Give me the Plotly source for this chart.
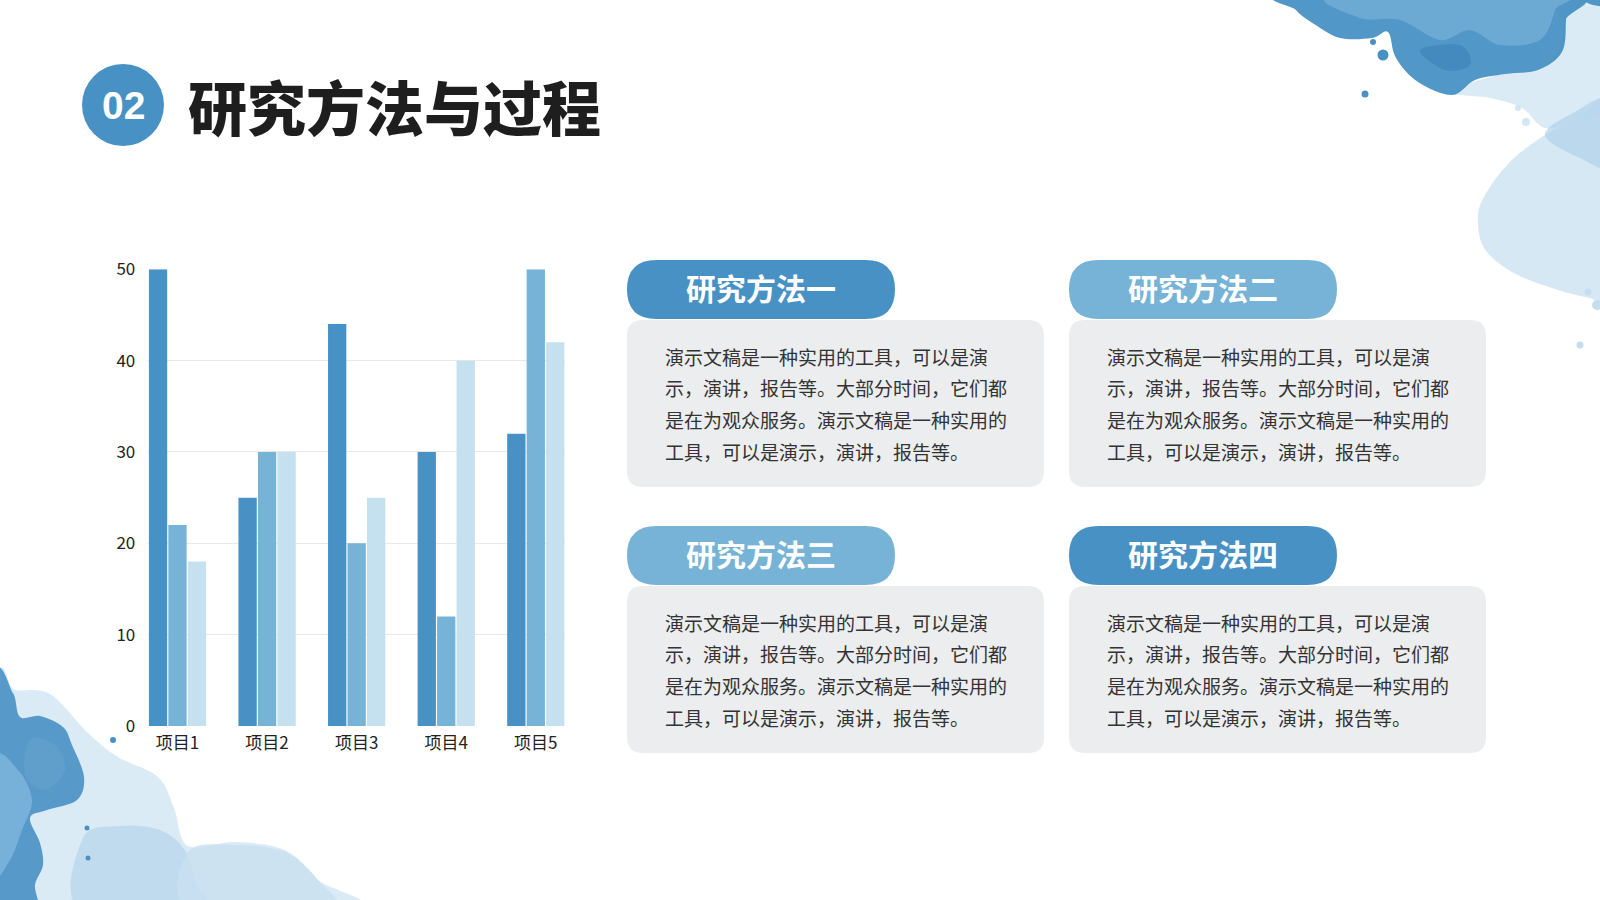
import plotly.graph_objects as go

W, H = 1600, 900
FONT = 'Noto Sans CJK SC'

DARK = '#4891C4'
MID = '#76B3D6'
LIGHT = '#C5E0EF'
BOX_GRAY = '#ECEDEF'

# chart data
categories = ['项目1', '项目2', '项目3', '项目4', '项目5']
series1 = [50, 25, 44, 30, 32]
series2 = [22, 30, 20, 12, 50]
series3 = [18, 30, 25, 40, 42]
y_ticks = [0, 10, 20, 30, 40, 50]

title_number = '02'
title_text = '研究方法与过程'
card_titles = ['研究方法一', '研究方法二', '研究方法三', '研究方法四']
card_lines = [
    '演示文稿是一种实用的工具，可以是演',
    '示，演讲，报告等。大部分时间，它们都',
    '是在为观众服务。演示文稿是一种实用的',
    '工具，可以是演示，演讲，报告等。',
]


def px(x):
    return x / W


def py(y):
    return 1 - y / H


def round_rect(x0, y0, x1, y1, r):
    # rounded rectangle as a path, pixel input -> paper coords
    pts = [
        ('M', [(x0 + r, y0)]),
        ('L', [(x1 - r, y0)]),
        ('Q', [(x1, y0), (x1, y0 + r)]),
        ('L', [(x1, y1 - r)]),
        ('Q', [(x1, y1), (x1 - r, y1)]),
        ('L', [(x0 + r, y1)]),
        ('Q', [(x0, y1), (x0, y1 - r)]),
        ('L', [(x0, y0 + r)]),
        ('Q', [(x0, y0), (x0 + r, y0)]),
    ]
    s = ''
    for cmd, ps in pts:
        s += cmd + ' ' + ' '.join('%.5f,%.5f' % (px(a), py(b)) for a, b in ps) + ' '
    return s + 'Z'


def blob(points):
    # smooth closed curve through pixel points (catmull-rom -> bezier)
    n = len(points)
    s = 'M %.5f,%.5f ' % (px(points[0][0]), py(points[0][1]))
    for i in range(n):
        p0 = points[i - 1]
        p1 = points[i]
        p2 = points[(i + 1) % n]
        p3 = points[(i + 2) % n]
        c1 = (p1[0] + (p2[0] - p0[0]) / 6, p1[1] + (p2[1] - p0[1]) / 6)
        c2 = (p2[0] - (p3[0] - p1[0]) / 6, p2[1] - (p3[1] - p1[1]) / 6)
        s += 'C %.5f,%.5f %.5f,%.5f %.5f,%.5f ' % (
            px(c1[0]), py(c1[1]), px(c2[0]), py(c2[1]), px(p2[0]), py(p2[1]))
    return s + 'Z'


fig = go.Figure()

for vals, color, name in [(series1, DARK, '系列1'), (series2, MID, '系列2'), (series3, LIGHT, '系列3')]:
    fig.add_trace(go.Bar(x=categories, y=vals, name=name, marker=dict(color=color, line=dict(width=0))))

shapes = []

# watercolor decorations (pixel outlines)
deco = [
    # top right: light washes
    ([(1450, 92), (1490, 98), (1522, 108), (1545, 128), (1575, 120), (1610, 100), (1610, -5),
      (1560, -5), (1562, 40), (1540, 68), (1500, 74)],
     'rgba(214,233,245,0.9)'),
    ([(1545, 135), (1512, 160), (1488, 190), (1478, 215), (1484, 248), (1512, 272), (1552, 288),
      (1590, 298), (1610, 298), (1610, 110), (1580, 118)],
     'rgba(208,229,243,0.9)'),
    ([(1545, 135), (1575, 112), (1610, 100), (1610, 165), (1580, 158)],
     'rgba(175,210,233,0.7)'),
    # top right: dark splash
    ([(1292, -5), (1296, 10), (1314, 24), (1340, 38), (1372, 38), (1388, 32), (1396, 58),
      (1418, 82), (1452, 95), (1475, 80), (1505, 74), (1538, 70), (1562, 52), (1566, 20), (1566, -5)],
     'rgba(72,145,196,0.95)'),
    ([(1335, -5), (1360, 18), (1400, 20), (1440, 40), (1470, 30), (1500, 45), (1540, 40), (1555, 10), (1555, -5)],
     'rgba(118,176,216,0.75)'),
    ([(1420, 50), (1445, 70), (1470, 65), (1460, 45)],
     'rgba(60,130,185,0.6)'),
    ([(1578, -5), (1590, 4), (1610, 6), (1610, -5)],
     'rgba(72,145,196,0.95)'),
    # bottom left: light washes
    ([(0, 682), (15, 690), (50, 694), (88, 733), (118, 757), (158, 777), (174, 808), (188, 846),
      (235, 842), (285, 850), (318, 880), (345, 910), (0, 910)],
     'rgba(214,233,245,0.9)'),
    ([(83, 838), (120, 826), (160, 830), (185, 850), (195, 880), (200, 910), (80, 910)],
     'rgba(185,215,236,0.8)'),
    ([(188, 852), (235, 845), (285, 852), (318, 880), (330, 910), (190, 910)],
     'rgba(200,224,240,0.8)'),
    # bottom left: dark splash
    ([(-5, 682), (13, 693), (20, 717), (40, 716), (63, 727), (72, 745), (84, 777), (77, 800),
      (47, 810), (30, 818), (40, 843), (43, 865), (35, 885), (36, 910), (-5, 910)],
     'rgba(72,145,196,0.9)'),
    ([(-5, 760), (18, 770), (32, 800), (22, 830), (10, 860), (-5, 870)],
     'rgba(125,180,218,0.85)'),
    ([(30, 740), (55, 745), (65, 770), (45, 790), (25, 775)],
     'rgba(100,160,205,0.7)'),
]
for pts, color in deco:
    shapes.append(dict(type='path', xref='paper', yref='paper', path=blob(pts),
                       fillcolor=color, line=dict(width=0), layer='below'))

# splash dots
for cx, cy, r, col in [(1365, 94, 3.5, DARK), (1383, 55, 5.5, DARK), (1373, 42, 3, DARK),
                       (113, 740, 3, DARK), (87, 828, 2.5, DARK), (88, 858, 2.5, DARK),
                       (1588, 292, 3.5, '#C5DDEE'), (1597, 305, 5, '#C5DDEE'), (1580, 345, 3.5, '#C5DDEE'),
                       (1518, 108, 3, '#D2E6F3'), (1526, 122, 4, '#D2E6F3')]:
    shapes.append(dict(type='circle', xref='paper', yref='paper',
                       x0=px(cx - r), x1=px(cx + r), y0=py(cy + r), y1=py(cy - r),
                       fillcolor=col, line=dict(width=0), layer='below'))

# title badge
shapes.append(dict(type='circle', xref='paper', yref='paper',
                   x0=px(82), x1=px(164), y0=py(146), y1=py(64),
                   fillcolor=DARK, line=dict(width=0)))

annotations = [
    dict(text='<b>%s</b>' % title_number, x=px(123), y=py(105), xref='paper', yref='paper',
         showarrow=False, xanchor='center', yanchor='middle',
         font=dict(family='Liberation Sans', size=39, color='white')),
    dict(text=title_text, x=px(186), y=py(105), xref='paper', yref='paper',
         showarrow=False, xanchor='left', yanchor='middle',
         font=dict(family=FONT, size=59, color='#1E1E1E', weight=900)),
]

# cards
card_x = [627, 1069, 627, 1069]
card_y = [260, 260, 526, 526]
pill_colors = [DARK, MID, MID, DARK]
for i, title in enumerate(card_titles):
    x0, y0 = card_x[i], card_y[i]
    shapes.append(dict(type='path', xref='paper', yref='paper',
                       path=round_rect(x0, y0 + 60, x0 + 417, y0 + 227, 16),
                       fillcolor=BOX_GRAY, line=dict(width=0)))
    shapes.append(dict(type='path', xref='paper', yref='paper',
                       path=round_rect(x0, y0, x0 + 268, y0 + 59, 29.5),
                       fillcolor=pill_colors[i], line=dict(width=0)))
    annotations.append(dict(text=title, x=px(x0 + 134), y=py(y0 + 27), xref='paper', yref='paper',
                            showarrow=False, xanchor='center', yanchor='middle',
                            font=dict(family=FONT, size=30, color='white', weight=700)))
    for j, line in enumerate(card_lines):
        annotations.append(dict(text=line, x=px(x0 + 36), y=py(y0 + 96 + j * 31.7),
                                xref='paper', yref='paper', showarrow=False,
                                xanchor='left', yanchor='middle',
                                font=dict(family=FONT, size=19, color='#333333')))

fig.update_layout(
    width=W, height=H,
    margin=dict(l=0, r=0, t=0, b=0),
    paper_bgcolor='white', plot_bgcolor='rgba(0,0,0,0)',
    showlegend=False,
    barmode='group', bargap=0.348, bargroupgap=0.06,
    font=dict(family=FONT, color='#222222'),
    xaxis=dict(domain=[px(148.3), px(565)], range=[-0.326, 4.326], showgrid=False, automargin=False,
               showline=False, zeroline=False, ticks='', tickfont=dict(size=17, color='#222222'),
               ticklabelstandoff=5),
    yaxis=dict(domain=[py(726), py(269.3)], range=[0, 50], tickvals=y_ticks, automargin=False,
               showgrid=True, gridcolor='#E8E8E8', gridwidth=1, zeroline=False, showline=False,
               ticks='', tickfont=dict(size=17, color='#222222'), ticklabelstandoff=12),
    shapes=shapes,
    annotations=annotations,
)

# drop the default 8px page margin so the slide sits at the window corner
fig.write_html('out.html', config={'displayModeBar': False},
               post_script="document.body.style.margin='0';")
